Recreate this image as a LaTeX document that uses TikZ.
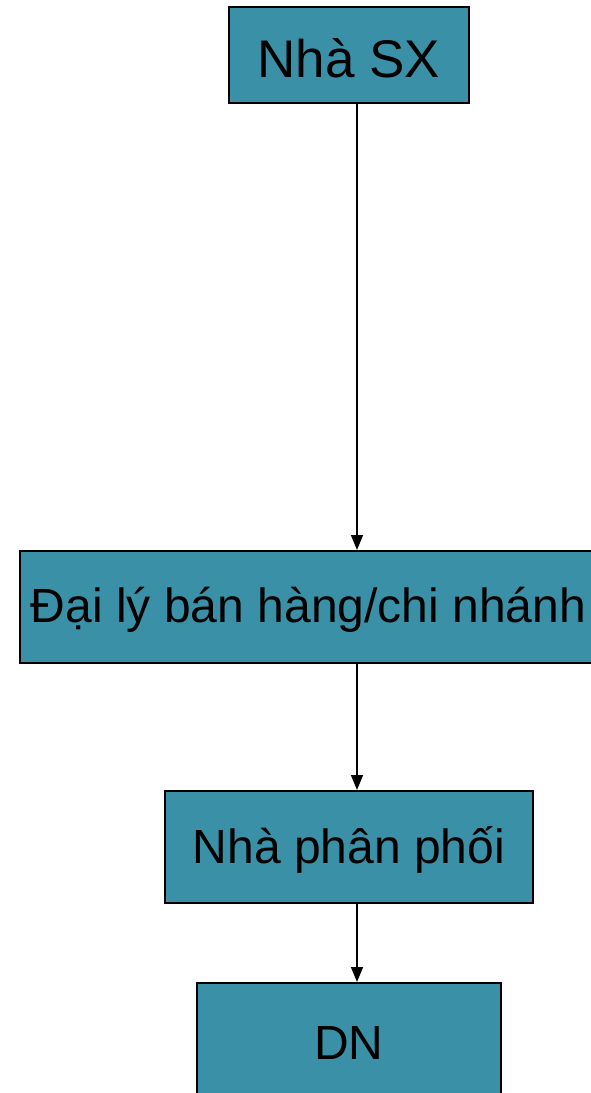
\documentclass[tikz,border=0pt]{standalone}
\usepackage{fontspec}
\setmainfont{Liberation Sans}
\usetikzlibrary{arrows.meta}
\definecolor{boxfill}{RGB}{58,145,167}
\begin{document}
\begin{tikzpicture}[x=1pt,y=-1pt,
  flowbox/.style={draw=black, line width=2pt, fill=boxfill, inner sep=0pt,
    font=\fontsize{48}{56}\selectfont, text=black},
  lbl/.style={yshift=-3pt},
  arr/.style={line width=1.6pt, -{Triangle[length=15pt,width=12pt]}}]
  \clip (0,0) rectangle (591,1093);
  \node[flowbox, minimum width=240pt, minimum height=96pt,
        font=\fontsize{53}{62}\selectfont] (sx) at (349,55) {};
  \node[flowbox, minimum width=577pt, minimum height=112pt] (daily) at (308.5,607) {};
  \node[flowbox, minimum width=368pt, minimum height=112pt] (npp) at (349,847) {};
  \node[flowbox, minimum width=304pt, minimum height=114pt] (dn) at (349,1040) {};
  \node[lbl, font=\fontsize{53}{62}\selectfont] (sxt) at (sx.center) {Nhà SX};
  \node[lbl, font=\fontsize{48}{56}\selectfont] (dailyt) at (daily.center) {Đại lý bán hàng/chi nhánh};
  \node[lbl, font=\fontsize{48}{56}\selectfont] (nppt) at (npp.center) {Nhà phân phối};
  \node[lbl, font=\fontsize{48}{56}\selectfont] (dnt) at (dn.center) {DN};
  \coordinate (ax) at (357,0);
  \draw[arr] (sx.south -| ax) -- (daily.north -| ax);
  \draw[arr] (daily.south -| ax) -- (npp.north -| ax);
  \draw[arr] (npp.south -| ax) -- (dn.north -| ax);
\end{tikzpicture}
\end{document}
